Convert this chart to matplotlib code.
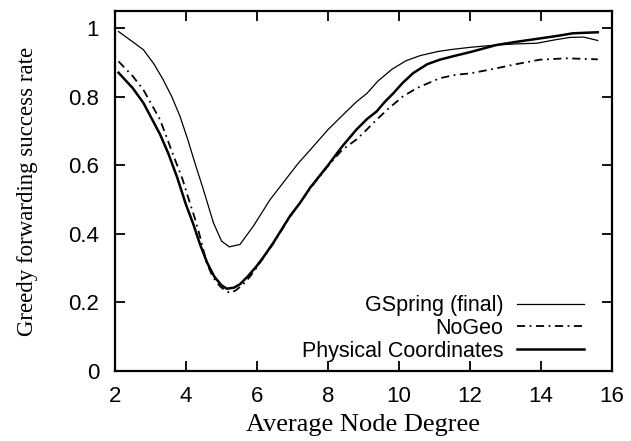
import matplotlib
matplotlib.use("Agg")
import matplotlib.pyplot as plt

# Data
gspring_x = [2.1, 2.5, 2.8, 3.1, 3.36, 3.6, 3.83, 4.05, 4.25, 4.49, 4.77, 5.0, 5.22, 5.52, 5.9, 6.37,
             6.84, 7.17, 7.5, 8.0, 8.5, 8.8, 9.1, 9.4, 9.8, 10.2, 10.6, 11.1, 11.5, 12.0, 12.75, 13.3,
             13.88, 14.4, 14.82, 15.2, 15.6]
gspring_y = [0.99, 0.96, 0.937, 0.895, 0.849, 0.80, 0.743, 0.675, 0.607, 0.529, 0.433, 0.379, 0.362, 0.369, 0.423, 0.50,
             0.563, 0.607, 0.645, 0.704, 0.755, 0.785, 0.81, 0.845, 0.88, 0.905, 0.92, 0.932, 0.938, 0.944, 0.951, 0.954,
             0.956, 0.966, 0.973, 0.974, 0.964]

physical_x = [2.1, 2.5, 2.8, 3.27, 3.5, 3.75, 4.0, 4.2, 4.4, 4.6, 4.8, 5.0, 5.15, 5.35, 5.52, 5.75, 5.99, 6.2,
              6.46, 6.93, 7.21, 7.5, 8.0, 8.4, 8.8, 9.1, 9.37, 9.6, 9.84, 10.1, 10.4, 10.8, 11.15, 11.6, 12.0,
              12.75, 13.3, 13.97, 14.5, 14.9, 15.6]
physical_y = [0.87, 0.825, 0.782, 0.69, 0.635, 0.565, 0.485, 0.43, 0.368, 0.315, 0.275, 0.25, 0.24, 0.243, 0.253, 0.277, 0.306, 0.335,
              0.374, 0.452, 0.49, 0.535, 0.60, 0.655, 0.704, 0.735, 0.757, 0.785, 0.81, 0.84, 0.869, 0.895, 0.908, 0.92, 0.93,
              0.951, 0.96, 0.97, 0.978, 0.985, 0.988]

nogeo_x = [2.1, 2.5, 2.8, 3.27, 3.64, 3.9, 4.11, 4.25, 4.39, 4.58, 4.75, 4.95, 5.1, 5.24, 5.4, 5.6, 5.8, 6.0,
           6.2, 6.46, 6.93, 7.21, 7.5, 8.0, 8.4, 8.8, 9.1, 9.37, 9.7, 10.1, 10.5, 11.15, 11.6, 12.0, 12.56,
           13.3, 13.97, 14.72, 15.6]
nogeo_y = [0.903, 0.86, 0.82, 0.733, 0.63, 0.56, 0.49, 0.445, 0.394, 0.316, 0.275, 0.248, 0.235, 0.228, 0.235, 0.252, 0.275, 0.303,
           0.333, 0.372, 0.45, 0.49, 0.533, 0.598, 0.645, 0.675, 0.705, 0.733, 0.765, 0.80, 0.825, 0.854, 0.864, 0.868, 0.879,
           0.895, 0.908, 0.912, 0.909]

x_ticks = [2, 4, 6, 8, 10, 12, 14, 16]
y_ticks = [0, 0.2, 0.4, 0.6, 0.8, 1]
y_tick_labels = ["0", "0.2", "0.4", "0.6", "0.8", "1"]

sans = ["Liberation Sans", "DejaVu Sans"]
serif = ["Liberation Serif", "DejaVu Serif"]

fig = plt.figure(figsize=(6.31, 4.41), dpi=100)
ax = fig.add_axes([115/631, 1 - 371/441, (612-115)/631, (371-11)/441])

ax.plot(gspring_x, gspring_y, color="black", lw=0.9, label="GSpring (final)")
ax.plot(nogeo_x, nogeo_y, color="black", lw=1.3, linestyle=(0, (4.5, 2.5, 1, 2.5)), label="NoGeo")
ax.plot(physical_x, physical_y, color="black", lw=1.8, label="Physical Coordinates")

ax.set_xlim(2, 16)
ax.set_ylim(0, 1.05)
ax.set_xticks(x_ticks)
ax.set_xticklabels([str(t) for t in x_ticks], family=sans, fontsize=16)
ax.set_yticks(y_ticks)
ax.set_yticklabels(y_tick_labels, family=sans, fontsize=16)
ax.tick_params(direction="in", length=7, width=1.3, top=True, right=True)
ax.tick_params(axis="x", pad=11)
ax.tick_params(axis="y", pad=11.5)
for s in ax.spines.values():
    s.set_linewidth(1.6)

ax.set_xlabel("Average Node Degree", family=serif, fontsize=19, labelpad=5)
ax.set_ylabel("Greedy forwarding success rate", family=serif, fontsize=16.5, labelpad=22)

leg = ax.legend(loc="lower right", bbox_to_anchor=((584 - 115) / 497, 0.026),
                frameon=False, markerfirst=False,
                prop={"family": sans, "size": 15.5}, handlelength=3.1,
                labelspacing=0.08, borderaxespad=0.0, borderpad=0.0, handletextpad=0.65)

fig.savefig("out.png", dpi=100)
